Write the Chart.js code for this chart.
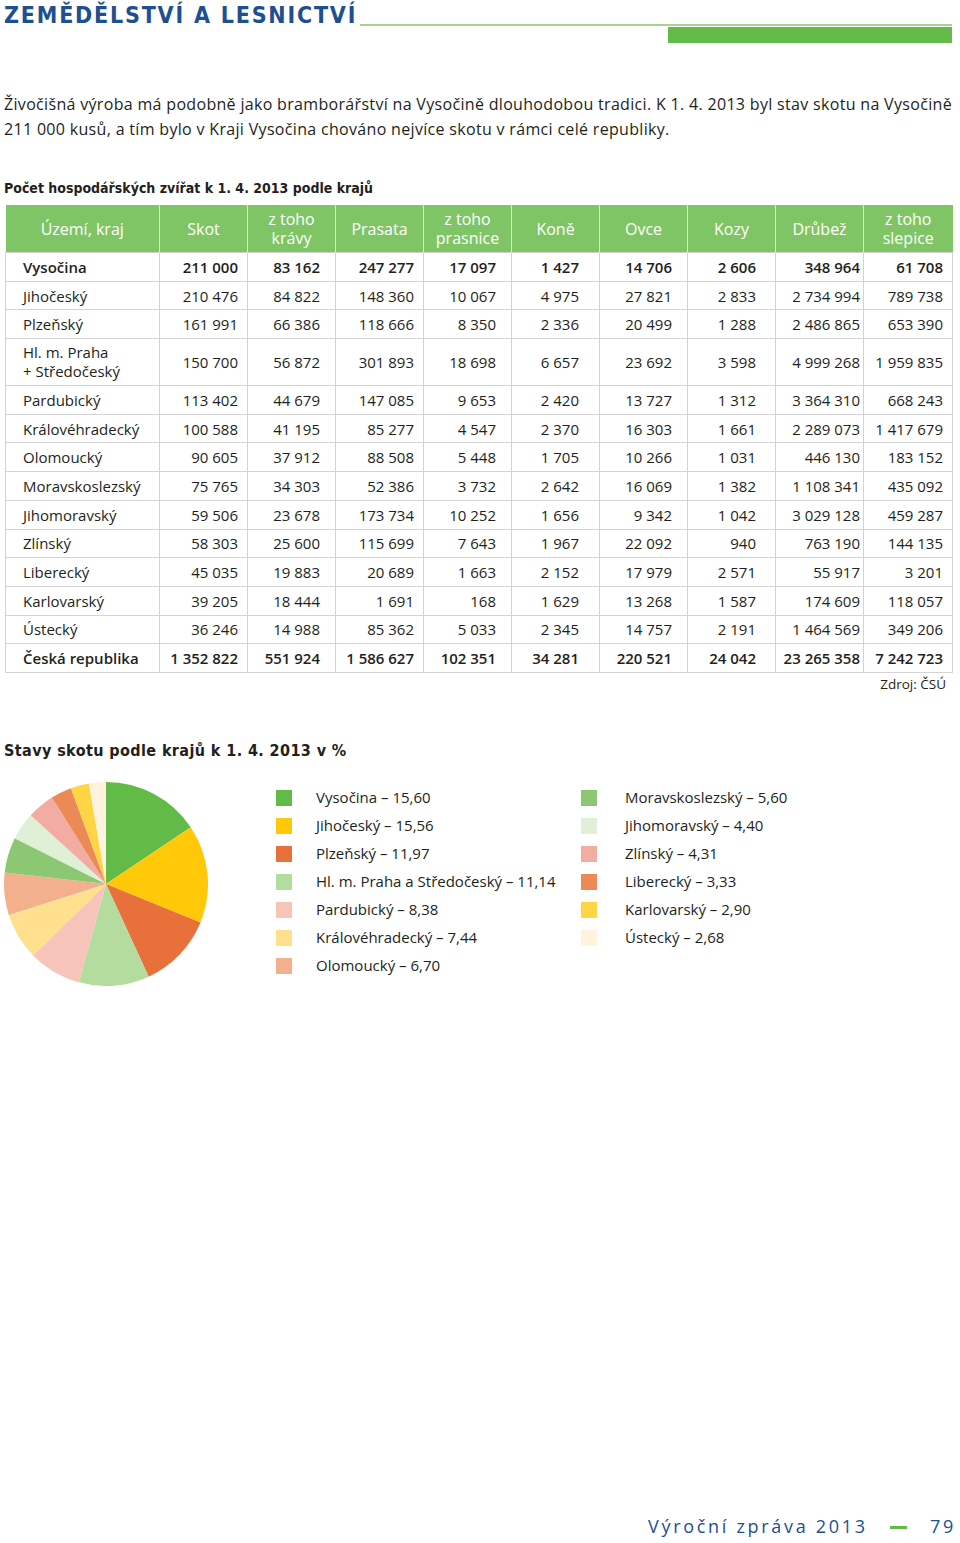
<!DOCTYPE html>
<html lang="cs">
<head>
<meta charset="utf-8">
<title>Zemědělství a lesnictví</title>
<script src="https://cdn.jsdelivr.net/npm/chart.js@4.4.1/dist/chart.umd.min.js"></script>
<style>
  html, body { margin: 0; padding: 0; background: #fff; }
  body { width: 960px; height: 1543px; position: relative; overflow: hidden;
         font-family: "Open Sans", sans-serif; color: #231f20; }
  .title { position: absolute; left: 4px; top: 2px; font-family: "DejaVu Sans Condensed", sans-serif;
           font-weight: bold; font-size: 23px; letter-spacing: 1.8px; color: #1d4f91; white-space: nowrap; }
  .rule { position: absolute; left: 360px; top: 24px; width: 592px; height: 2px; background: #a5d48c; }
  .bar { position: absolute; left: 668px; top: 27px; width: 284px; height: 16px; background: #62bb46; }
  .intro { position: absolute; left: 4px; top: 92px; font-size: 16px; letter-spacing: 0.32px;
           line-height: 25px; white-space: nowrap; }
  .h2 { position: absolute; left: 4px; font-family: "DejaVu Sans Condensed", sans-serif;
        font-weight: bold; color: #231f20; white-space: nowrap; }
  table { position: absolute; left: 5px; top: 205px; width: 947px; border-collapse: collapse;
          table-layout: fixed; font-size: 15px; }
  th { background: #80c565; color: #fff; font-weight: normal; font-size: 16px; height: 46px; line-height: 19px;
       border-left: 1px solid #d9eecf; padding: 1px 0 0 0; text-align: center; }
  th:first-child { border-left: none; }
  td { border: 1px solid #d3d3d3; height: 27.7px; padding: 0; text-align: right; white-space: nowrap; }
  td.name { text-align: left; padding-left: 17px; }
  td.tall { height: 46px; line-height: 19px; }
  tr.bold td { font-weight: 600; }
  .source { position: absolute; right: 14px; top: 675px; font-size: 13.5px; }
  #pieBox { position: absolute; left: 4px; top: 782px; width: 204px; height: 204px; }
  .legend { position: absolute; top: 785px; font-size: 15px; }
  .legend div { height: 28px; line-height: 24px; white-space: nowrap; }
  .legend span { display: inline-block; width: 16px; height: 16px; vertical-align: -3px; }
  .footer { position: absolute; top: 1514px; font-size: 18px; letter-spacing: 2.7px;
            color: #1d4f91; white-space: nowrap; }
  .dash { position: absolute; left: 890px; top: 1526px; width: 17px; height: 3px; background: #62bb46; }
</style>
</head>
<body>
<div class="title">ZEMĚDĚLSTVÍ A LESNICTVÍ</div>
<div class="rule"></div>
<div class="bar"></div>

<div class="intro">Živočišná výroba má podobně jako bramborářství na Vysočině dlouhodobou tradici. K 1. 4. 2013 byl stav skotu na Vysočině<br>211 000 kusů, a tím bylo v Kraji Vysočina chováno nejvíce skotu v rámci celé republiky.</div>

<div class="h2" style="top:180px; font-size:14px; letter-spacing:0px;">Počet hospodářských zvířat k 1. 4. 2013 podle krajů</div>

<table id="tab"></table>
<div class="source">Zdroj: ČSÚ</div>

<div class="h2" style="top:741px; font-size:16px; letter-spacing:0.4px;">Stavy skotu podle krajů k 1. 4. 2013 v %</div>

<div id="pieBox"><canvas id="pie" width="204" height="204"></canvas></div>
<div class="legend" id="leg1" style="left:276px;"></div>
<div class="legend" id="leg2" style="left:581px;"></div>

<div class="footer" style="left:648px;">Výroční zpráva 2013</div>
<div class="dash"></div>
<div class="footer" style="left:930px;">79</div>

<script>
// table data
var columns = ["Území, kraj", "Skot", "z toho<br>krávy", "Prasata", "z toho<br>prasnice", "Koně", "Ovce", "Kozy", "Drůbež", "z toho<br>slepice"];
var regions = ["Vysočina", "Jihočeský", "Plzeňský", "Hl. m. Praha<br>+ Středočeský", "Pardubický", "Královéhradecký",
  "Olomoucký", "Moravskoslezský", "Jihomoravský", "Zlínský", "Liberecký", "Karlovarský", "Ústecký", "Česká republika"];
var skot = [211000, 210476, 161991, 150700, 113402, 100588, 90605, 75765, 59506, 58303, 45035, 39205, 36246, 1352822];
var kravy = [83162, 84822, 66386, 56872, 44679, 41195, 37912, 34303, 23678, 25600, 19883, 18444, 14988, 551924];
var prasata = [247277, 148360, 118666, 301893, 147085, 85277, 88508, 52386, 173734, 115699, 20689, 1691, 85362, 1586627];
var prasnice = [17097, 10067, 8350, 18698, 9653, 4547, 5448, 3732, 10252, 7643, 1663, 168, 5033, 102351];
var kone = [1427, 4975, 2336, 6657, 2420, 2370, 1705, 2642, 1656, 1967, 2152, 1629, 2345, 34281];
var ovce = [14706, 27821, 20499, 23692, 13727, 16303, 10266, 16069, 9342, 22092, 17979, 13268, 14757, 220521];
var kozy = [2606, 2833, 1288, 3598, 1312, 1661, 1031, 1382, 1042, 940, 2571, 1587, 2191, 24042];
var drubez = [348964, 2734994, 2486865, 4999268, 3364310, 2289073, 446130, 1108341, 3029128, 763190, 55917, 174609, 1464569, 23265358];
var slepice = [61708, 789738, 653390, 1959835, 668243, 1417679, 183152, 435092, 459287, 144135, 3201, 118057, 349206, 7242723];

// pie data
var pieLabels = ["Vysočina", "Jihočeský", "Plzeňský", "Hl. m. Praha a Středočeský", "Pardubický", "Královéhradecký",
  "Olomoucký", "Moravskoslezský", "Jihomoravský", "Zlínský", "Liberecký", "Karlovarský", "Ústecký"];
var pieShares = [15.60, 15.56, 11.97, 11.14, 8.38, 7.44, 6.70, 5.60, 4.40, 4.31, 3.33, 2.90, 2.68];
var pieColors = ["#62bb46", "#ffc90a", "#e8703a", "#b4dc9e", "#f6c4b9", "#ffe08f", "#f2b08c",
  "#8cc873", "#dff0d6", "#f3aca1", "#eb8a57", "#ffd445", "#fff3de"];

function fmt(n) {
  return String(n).replace(/\B(?=(\d{3})+(?!\d))/g, " ");
}

var valueCols = [skot, kravy, prasata, prasnice, kone, ovce, kozy, drubez, slepice];
var padRight = [9, 15, 9, 15, 20, 15, 19, 3, 9];
var colW = [154, 88, 88, 88, 88, 88, 88, 88, 88, 89];

var html = "<colgroup>";
colW.forEach(function (w) { html += '<col style="width:' + w + 'px">'; });
html += "</colgroup><tr>";
columns.forEach(function (c) { html += "<th>" + c + "</th>"; });
html += "</tr>";
regions.forEach(function (r, i) {
  var bold = (i === 0 || i === regions.length - 1);
  var tall = r.indexOf("<br>") >= 0;
  html += '<tr' + (bold ? ' class="bold"' : '') + '>';
  html += '<td class="name' + (tall ? ' tall' : '') + '">' + r + '</td>';
  valueCols.forEach(function (col, j) {
    html += '<td style="padding-right:' + padRight[j] + 'px">' + fmt(col[i]) + '</td>';
  });
  html += "</tr>";
});
document.getElementById("tab").innerHTML = html;

// legend in two columns
pieLabels.forEach(function (lab, i) {
  var d = document.createElement("div");
  d.innerHTML = '<span style="background:' + pieColors[i] + '"></span>' +
    '<b style="font-weight:normal; margin-left:' + (i < 7 ? 24 : 28) + 'px">' + lab + ' – ' +
    pieShares[i].toFixed(2).replace(".", ",") + '</b>';
  document.getElementById(i < 7 ? "leg1" : "leg2").appendChild(d);
});

new Chart(document.getElementById("pie"), {
  type: "pie",
  data: {
    labels: pieLabels,
    datasets: [{
      data: pieShares,
      backgroundColor: pieColors,
      borderWidth: 0,
      hoverOffset: 0
    }]
  },
  options: {
    responsive: false,
    animation: false,
    layout: { padding: 0 },
    plugins: {
      legend: { display: false },
      tooltip: { enabled: false }
    }
  }
});
</script>
</body>
</html>
